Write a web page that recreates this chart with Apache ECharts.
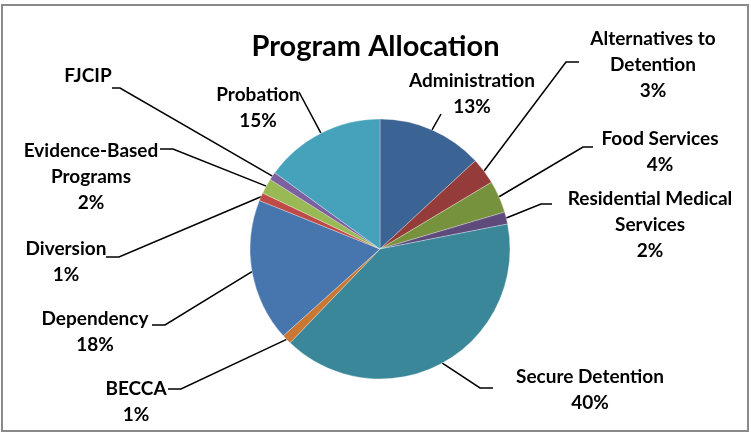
<!DOCTYPE html>
<html>
<head>
<meta charset="utf-8">
<script src="https://cdn.jsdelivr.net/npm/echarts@6/dist/echarts.min.js"></script>
<style>html,body{margin:0;padding:0;background:#fff}#c{width:751px;height:435px}</style>
</head>
<body>
<div id="c"></div>
<script>
// ---- data ----
var categories = ['Administration', 'Alternatives to Detention', 'Food Services', 'Residential Medical Services',
  'Secure Detention', 'BECCA', 'Dependency', 'Diversion', 'Evidence-Based Programs', 'FJCIP', 'Probation'];
var values = [13.1, 3.3, 4.0, 1.5, 40.2, 1.2, 17.7, 1.0, 1.9, 1.0, 15.0];
var showPercent = [true, true, true, true, true, true, true, true, true, false, true];
var colors = ['#3B6494', '#953B39', '#77923D', '#5F4A7C', '#3A8799', '#C97732', '#4776AE', '#BE4B48', '#98B954', '#7D60A0', '#46A2BA'];

// ---- label layout (positions only): [labelCenterX, labelCenterY, elbowX, elbowY, endX] ----
var labelSpots = [
  [472, 94, null, null, 441, 114],
  [653, 65, 566, 62, 579],
  [660, 152, 583, 147, 593],
  [650, 225, 541, 204, 552],
  [590, 390, 480, 388, 493],
  [136, 402, 181, 389, 168],
  [95, 332, 165, 325, 152],
  [66, 262, 119, 257, 106],
  [91, 177, 173, 149, 160],
  [88, 76, 120, 88, 112],
  [258, 108, null, null, 299, 92]
];

function wrap(name) {
  if (name.length > 16) {
    var i = name.lastIndexOf(' ');
    return name.slice(0, i) + '\n' + name.slice(i + 1);
  }
  return name;
}

var chart = echarts.init(document.getElementById('c'), null, {renderer: 'canvas'});
var FONT = 'Lato';
chart.setOption({
  backgroundColor: '#fff',
  animation: false,
  title: {
    text: 'Program Allocation',
    left: 'center',
    top: 27,
    textStyle: {fontFamily: FONT, fontSize: 29, fontWeight: 'bold', color: '#000'}
  },
  graphic: [{
    type: 'rect', shape: {x: 2, y: 5, width: 746, height: 426},
    style: {fill: 'none', stroke: '#8a8a8a', lineWidth: 2}, silent: true
  }],
  series: [{
    type: 'pie',
    center: [380, 249],
    radius: 130,
    startAngle: 90,
    clockwise: true,
    data: categories.map(function (c, i) {
      return {name: c, value: values[i], itemStyle: {color: colors[i]}};
    }),
    itemStyle: {borderColor: 'rgba(255,255,255,0.5)', borderWidth: 0.6},
    label: {
      show: true,
      position: 'outside',
      fontFamily: FONT,
      fontSize: 19,
      fontWeight: 'bold',
      color: '#000',
      lineHeight: 26,
      align: 'center',
      formatter: function (p) {
        var t = wrap(p.name);
        if (showPercent[p.dataIndex]) t += '\n' + Math.round(p.percent) + '%';
        return t;
      }
    },
    labelLine: {show: true, lineStyle: {color: '#000', width: 1.5}},
    labelLayout: function (p) {
      var s = labelSpots[p.dataIndex];
      var start = p.labelLinePoints ? p.labelLinePoints[0] : [0, 0];
      var pts;
      if (s[2] === null) {
        pts = [start, [s[4], s[5]], [s[4], s[5]]];
      } else {
        pts = [start, [s[2], s[3]], [s[4], s[3]]];
      }
      return {x: s[0], y: s[1], align: 'center', verticalAlign: 'middle', labelLinePoints: pts};
    }
  }]
});
</script>
</body>
</html>
